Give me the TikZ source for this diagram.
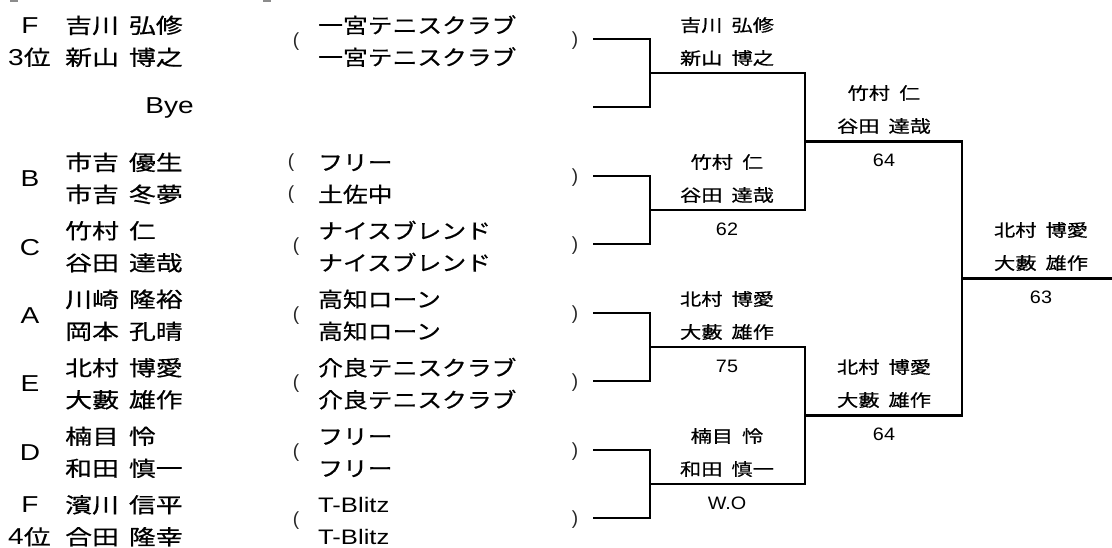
\documentclass[tikz,border=0pt]{standalone}
\usepackage{fontspec}
\setmainfont{Liberation Sans}
\newfontfamily\lat[FakeStretch=1.22]{Liberation Sans}
\newfontfamily\latsc[FakeStretch=1.1]{Liberation Sans}
\newfontfamily\jpn[FakeStretch=1.28,FakeBold=0.6]{Noto Sans CJK JP}
\newfontfamily\jpc[FakeStretch=1.18,FakeBold=0.6]{Noto Sans CJK JP}
\newfontfamily\jpl[FakeStretch=1.25,FakeBold=0.6]{Noto Sans CJK JP}
\newcommand\lsp{\hspace{10pt}}
\newcommand\rsp{\hspace{9pt}}
\tikzset{
  nm/.style={anchor=base west, inner sep=0pt, font=\jpn\fontsize{21}{21}\selectfont},
  seed/.style={anchor=base, inner sep=0pt, font=\lat\fontsize{23}{23}\selectfont},
  rank/.style={anchor=base west, inner sep=0pt, font=\lat\fontsize{23}{23}\selectfont},
  club/.style={anchor=base west, inner sep=0pt, font=\jpc\fontsize{21}{21}\selectfont},
  clublat/.style={anchor=base west, inner sep=0pt, font=\lat\fontsize{21}{21}\selectfont},
  par/.style={anchor=base, inner sep=0pt, text=black!85, font=\fontsize{19}{19}\selectfont},
  lab/.style={anchor=base, inner sep=0pt, font=\jpl\fontsize{17}{17}\selectfont},
  sc/.style={anchor=base, inner sep=0pt, font=\latsc\fontsize{18}{18}\selectfont},
  br/.style={line width=2.2pt, line join=miter, draw=black}
}
\begin{document}
\begin{tikzpicture}[x=1pt,y=-1pt]
\useasboundingbox (0,0) rectangle (1112,548);
% tiny marks at top edge
\fill[black!45] (10,0) rectangle (18,1.6);
\fill[black!45] (263,0) rectangle (271,1.6);

% ---- left column: seeds / ranks ----
\node[seed] (sF1) at (30,33.45) {F};
\node[rank] (r3) at (8,65.25) {3{\jpn\fontsize{21}{21}\selectfont 位}};
\node[seed] (sB) at (30,186.95) {B};
\node[seed] (sC) at (30,255.45) {C};
\node[seed] (sA) at (30,323.45) {A};
\node[seed] (sE) at (30,391.95) {E};
\node[seed] (sD) at (30,460.45) {D};
\node[seed] (sF2) at (30,512.95) {F};
\node[rank] (r4) at (8,544.75) {4{\jpn\fontsize{21}{21}\selectfont 位}};

% ---- left column: names ----
\node[nm] (n1) at (65,33.25) {吉川\lsp 弘修};
\node[nm] (n2) at (65,65.25) {新山\lsp 博之};
\node[seed, anchor=base east] (bye) at (194,114) {Bye};
\node[nm] (n3) at (65,170.25) {市吉\lsp 優生};
\node[nm] (n4) at (65,202.25) {市吉\lsp 冬夢};
\node[nm] (n5) at (65,238.75) {竹村\lsp 仁};
\node[nm] (n6) at (65,270.75) {谷田\lsp 達哉};
\node[nm] (n7) at (65,307.25) {川崎\lsp 隆裕};
\node[nm] (n8) at (65,339.25) {岡本\lsp 孔晴};
\node[nm] (n9) at (65,375.75) {北村\lsp 博愛};
\node[nm] (n10) at (65,407.75) {大藪\lsp 雄作};
\node[nm] (n11) at (65,444.25) {楠目\lsp 怜};
\node[nm] (n12) at (65,476.25) {和田\lsp 慎一};
\node[nm] (n13) at (65,512.75) {濱川\lsp 信平};
\node[nm] (n14) at (65,544.75) {合田\lsp 隆幸};

% ---- clubs ----
\node[par] (o1) at (296,46.45) {(};
\node[club] (c1) at (318,33.25) {一宮テニスクラブ};
\node[club] (c2) at (318,65.25) {一宮テニスクラブ};
\node[par] (o2) at (291,167.45) {(};
\node[club] (c3) at (318,170.25) {フリー};
\node[par] (o3) at (291,199.45) {(};
\node[club] (c4) at (318,202.25) {土佐中};
\node[par] (o4) at (296,251.95) {(};
\node[club] (c5) at (318,238.75) {ナイスブレンド};
\node[club] (c6) at (318,270.75) {ナイスブレンド};
\node[par] (o5) at (296,320.45) {(};
\node[club] (c7) at (318,307.25) {高知ローン};
\node[club] (c8) at (318,339.25) {高知ローン};
\node[par] (o6) at (296,388.95) {(};
\node[club] (c9) at (318,375.75) {介良テニスクラブ};
\node[club] (c10) at (318,407.75) {介良テニスクラブ};
\node[par] (o7) at (296,457.45) {(};
\node[club] (c11) at (318,444.25) {フリー};
\node[club] (c12) at (318,476.25) {フリー};
\node[par] (o8) at (296,525.95) {(};
\node[clublat] (c13) at (318,512.95) {T-Blitz};
\node[clublat] (c14) at (318,544.95) {T-Blitz};

% ---- closing parens ----
\node[par] (p1) at (575,45.45) {)};
\node[par] (p3) at (575,182.45) {)};
\node[par] (p4) at (575,250.95) {)};
\node[par] (p5) at (575,319.45) {)};
\node[par] (p6) at (575,387.95) {)};
\node[par] (p7) at (575,456.45) {)};
\node[par] (p8) at (575,524.95) {)};

% ---- bracket coordinates ----
\coordinate (e1) at (593,38.75);
\coordinate (e2) at (593,107.25);
\coordinate (e3) at (593,175.75);
\coordinate (e4) at (593,244.25);
\coordinate (e5) at (593,312.75);
\coordinate (e6) at (593,381.25);
\coordinate (e7) at (593,449.75);
\coordinate (e8) at (593,518.25);
\coordinate (j1) at (650,73);
\coordinate (j2) at (650,210);
\coordinate (j3) at (650,347);
\coordinate (j4) at (650,484);
\coordinate (k1) at (805,141.5);
\coordinate (k2) at (805,415.5);
\coordinate (fj) at (962,278.5);
\coordinate (fin) at (1112,278.5);

\draw[br] (e1) -| (j1) |- (e2);
\draw[br] (e3) -| (j2) |- (e4);
\draw[br] (e5) -| (j3) |- (e6);
\draw[br] (e7) -| (j4) |- (e8);
\draw[br] (j1) -| (k1) |- (j2);
\draw[br] (j3) -| (k2) |- (j4);
\draw[br] (k1) -| (fj) |- (k2);
\draw[br] (fj) -- (fin);

% ---- round 1 winners ----
\node[lab] (w1a) at (727,31.5) {吉川\rsp 弘修};
\node[lab] (w1b) at (727,64.5) {新山\rsp 博之};
\node[lab] (w2a) at (727,168.5) {竹村\rsp 仁};
\node[lab] (w2b) at (727,201.5) {谷田\rsp 達哉};
\node[sc] (s2) at (727,235.4) {62};
\node[lab] (w3a) at (727,305.5) {北村\rsp 博愛};
\node[lab] (w3b) at (727,338.5) {大藪\rsp 雄作};
\node[sc] (s3) at (727,372.4) {75};
\node[lab] (w4a) at (727,442.5) {楠目\rsp 怜};
\node[lab] (w4b) at (727,475.5) {和田\rsp 慎一};
\node[sc] (s4) at (727,509.4) {W.O};

% ---- round 2 winners ----
\node[lab] (x1a) at (884,99.5) {竹村\rsp 仁};
\node[lab] (x1b) at (884,132.5) {谷田\rsp 達哉};
\node[sc] (t1) at (884,166.9) {64};
\node[lab] (x2a) at (884,373.5) {北村\rsp 博愛};
\node[lab] (x2b) at (884,406.5) {大藪\rsp 雄作};
\node[sc] (t2) at (884,440.9) {64};

% ---- champion ----
\node[lab] (ya) at (1041,236.5) {北村\rsp 博愛};
\node[lab] (yb) at (1041,269.5) {大藪\rsp 雄作};
\node[sc] (u1) at (1041,303.9) {63};
\end{tikzpicture}
\end{document}
